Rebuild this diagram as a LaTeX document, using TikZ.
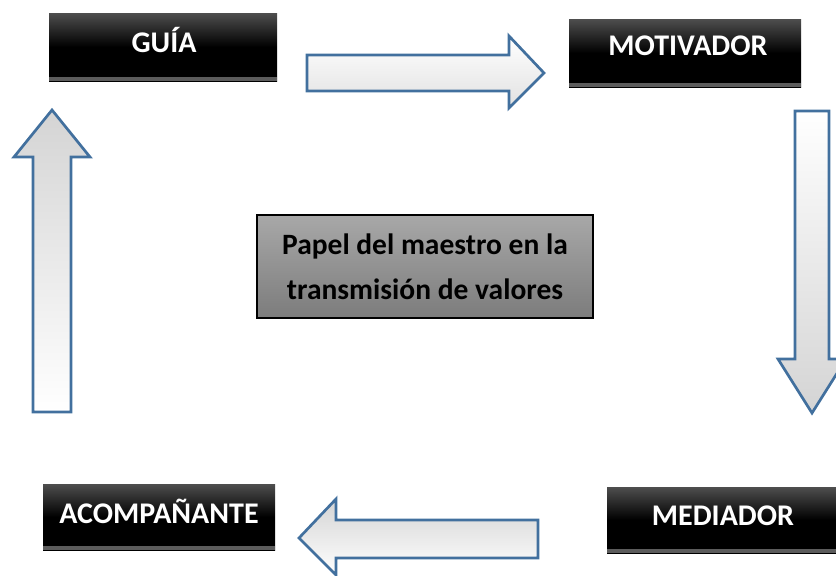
\documentclass[tikz,border=0pt]{standalone}
\usepackage{fontspec}
\setmainfont{Carlito}
\definecolor{arrowline}{RGB}{66,112,158}
\definecolor{boxtop}{RGB}{78,78,78}
\definecolor{boxstrip}{RGB}{92,92,92}
\definecolor{midtop}{RGB}{168,168,168}
\definecolor{midbot}{RGB}{124,124,124}
\definecolor{headgray}{RGB}{212,212,212}
\tikzset{
  darkbox/.style={rectangle, inner sep=0pt,
    top color=boxtop, bottom color=black, middle color=black,
    path picture={
      \fill[boxstrip] (path picture bounding box.south west) rectangle
        ([yshift=4pt]path picture bounding box.south east);
    }},
  boxtext/.style={text=white, font=\fontsize{30}{34}\selectfont\bfseries, inner sep=0pt},
  blockarrow/.style={draw=arrowline, line width=2.7pt, line join=miter},
}
\begin{document}
\begin{tikzpicture}[x=1pt,y=-1pt]
\useasboundingbox (0,0) rectangle (836,576);
% black label boxes
\node[darkbox, minimum width=228pt, minimum height=68pt] (guia) at (163,47) {};
\node[boxtext] (guiaT) at (164,40) {GUÍA};
\node[darkbox, minimum width=232pt, minimum height=68pt] (moti) at (685,53) {};
\node[boxtext] (motiT) at (688,46) {MOTIVADOR};
\node[darkbox, minimum width=236pt, minimum height=66pt] (medi) at (725,520) {};
\node[boxtext] (mediT) at (723,516) {MEDIADOR};
\node[darkbox, minimum width=232pt, minimum height=66pt] (acom) at (159,517) {};
\node[boxtext] (acomT) at (159,511) {ACOMPAÑANTE};
% centre box
\node[rectangle, draw=black, line width=2.4pt, top color=midtop, bottom color=midbot,
      minimum width=336pt, minimum height=103pt, inner sep=0pt,
      align=center, font=\fontsize{29.5}{45}\selectfont\bfseries] (centre) at (425,266.5)
      {Papel del maestro en la\\transmisión de valores};
% block arrows
\draw[blockarrow, top color=white, bottom color=headgray!70!white]
  (307,55) -- (509,55) -- (509,36) -- (544,73) -- (509,108) -- (509,91) -- (307,91) -- cycle;
\draw[blockarrow, top color=white, bottom color=headgray]
  (795,111) -- (829,111) -- (829,359) -- (846,359) -- (812,413) -- (778,359) -- (795,359) -- cycle;
\draw[blockarrow, top color=headgray, bottom color=white]
  (538,520) -- (336,520) -- (336,499) -- (299,538) -- (336,575) -- (336,558) -- (538,558) -- cycle;
\draw[blockarrow, top color=headgray, bottom color=white]
  (33,412) -- (33,157) -- (14,157) -- (52,110) -- (90,157) -- (71,157) -- (71,412) -- cycle;
\end{tikzpicture}
\end{document}
